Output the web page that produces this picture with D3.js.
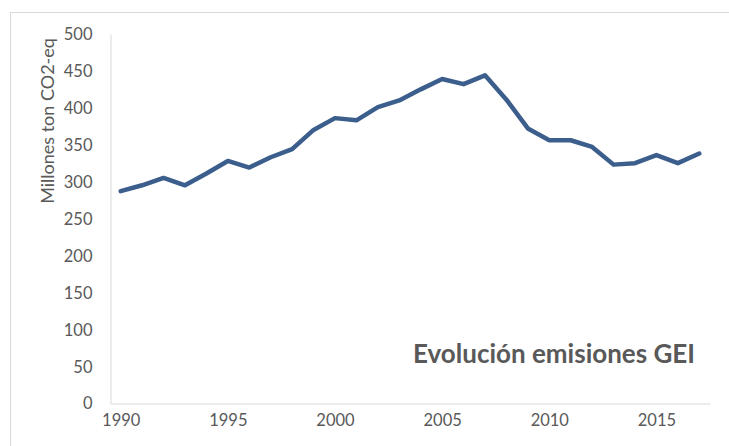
<!DOCTYPE html>
<html>
<head>
<meta charset="utf-8">
<title>Evolución emisiones GEI</title>
<script src="https://cdn.jsdelivr.net/npm/d3@7"></script>
<style>
  body { margin: 0; background: #fff; }
  svg { display: block; }
</style>
</head>
<body>
<svg width="729" height="446"></svg>
<script>
// datos
var years = [1990, 1991, 1992, 1993, 1994, 1995, 1996, 1997, 1998, 1999,
             2000, 2001, 2002, 2003, 2004, 2005, 2006, 2007, 2008, 2009,
             2010, 2011, 2012, 2013, 2014, 2015, 2016, 2017];
var emisiones = [287, 295, 305, 295, 311, 328, 319, 333, 344, 370,
                 386, 383, 401, 410, 425, 439, 432, 444, 411, 372,
                 356, 356, 347, 323, 325, 336, 325, 338];
var yTicks = [0, 50, 100, 150, 200, 250, 300, 350, 400, 450, 500];
var xTicks = [1990, 1995, 2000, 2005, 2010, 2015];
var yTitle = "Millones ton CO2-eq";
var chartTitle = "Evolución emisiones GEI";

var svg = d3.select("svg");
var gray = "#595959";
var font = "Lato, 'Open Sans', sans-serif";

// marco del area del grafico
svg.append("rect")
  .attr("x", 10.5).attr("y", 12.5)
  .attr("width", 740).attr("height", 460)
  .attr("fill", "#fff")
  .attr("stroke", "#d9d9d9")
  .attr("stroke-width", 1);

var x = d3.scaleLinear().domain([1989.5, 2017.5]).range([110, 710]);
var y = d3.scaleLinear().domain([0, 500]).range([403, 34]);

var yAxis = svg.append("g")
  .attr("transform", "translate(110.5,0)")
  .call(d3.axisLeft(y).tickValues(yTicks).tickSize(0).tickPadding(18));

var xAxis = svg.append("g")
  .attr("transform", "translate(0,403.5)")
  .call(d3.axisBottom(x).tickValues(xTicks).tickSize(0).tickPadding(11).tickFormat(d3.format("d")));

[yAxis, xAxis].forEach(function(g){
  g.select(".domain").attr("stroke", "#d9d9d9").attr("stroke-width", 1);
  g.selectAll("text")
    .attr("fill", gray)
    .attr("font-family", font)
    .attr("font-size", "16.5px");
});
yAxis.selectAll("text").attr("dy", "0.36em");
xAxis.selectAll("text").attr("dy", "0.7em");

svg.append("text")
  .text(yTitle)
  .attr("transform", "translate(54,121) rotate(-90)")
  .attr("text-anchor", "middle")
  .attr("fill", gray)
  .attr("font-family", font)
  .attr("font-size", "18px");

var line = d3.line()
  .x(function(d, i){ return x(years[i]); })
  .y(function(d){ return y(d); });

svg.append("path")
  .datum(emisiones)
  .attr("d", line)
  .attr("fill", "none")
  .attr("stroke", "#3b5e8c")
  .attr("stroke-width", 4.5)
  .attr("stroke-linejoin", "round")
  .attr("stroke-linecap", "round");

svg.append("text")
  .text(chartTitle)
  .attr("x", 695).attr("y", 363)
  .attr("text-anchor", "end")
  .attr("fill", gray)
  .attr("font-family", font)
  .attr("font-weight", "bold")
  .attr("font-size", "26px");
</script>
</body>
</html>
